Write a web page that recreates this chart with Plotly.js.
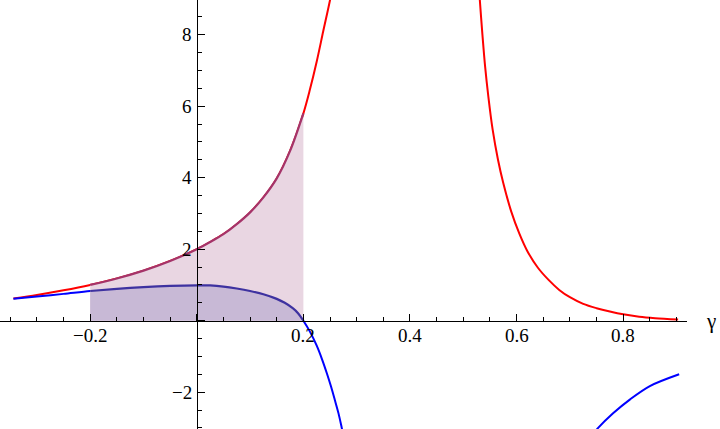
<!DOCTYPE html>
<html>
<head>
<meta charset="utf-8">
<script src="https://cdn.plot.ly/plotly-3.0.1.min.js"></script>
<style>html,body{margin:0;padding:0;background:#fff;}#chart{width:720px;height:429px;}</style>
</head>
<body>
<div id="chart"></div>
<script>
// Red curve (left branch, then right branch)
const redX1 = [-0.344,-0.30,-0.25,-0.20,-0.15,-0.10,-0.05,0.00,0.025,0.05,0.075,0.10,0.125,0.15,0.175,0.20,0.212,0.225,0.237,0.250,0.258];
const redY1 = [0.62,0.72,0.85,1.00,1.18,1.40,1.67,2.00,2.20,2.42,2.70,3.03,3.45,3.98,4.75,5.80,6.45,7.25,8.08,8.97,9.60];
const redX2 = [0.527,0.531,0.536,0.541,0.547,0.555,0.565,0.575,0.590,0.605,0.620,0.640,0.660,0.680,0.700,0.725,0.750,0.775,0.800,0.830,0.860,0.903];
const redY2 = [9.90,8.97,7.98,7.10,6.27,5.35,4.51,3.85,3.05,2.44,1.95,1.48,1.14,0.86,0.656,0.47,0.35,0.256,0.177,0.109,0.068,0.03];
// Blue curve (left branch, then right branch)
const blueX1 = [-0.344,-0.30,-0.25,-0.20,-0.15,-0.10,-0.05,0.00,0.025,0.05,0.075,0.10,0.125,0.15,0.165,0.18,0.19,0.20,0.212,0.225,0.235,0.244,0.252,0.259,0.266,0.272,0.278];
const blueY1 = [0.61,0.675,0.75,0.83,0.89,0.94,0.975,0.99,0.985,0.955,0.90,0.83,0.74,0.61,0.50,0.35,0.21,0.00,-0.30,-0.70,-1.08,-1.47,-1.85,-2.22,-2.60,-3.00,-3.42];
const blueX2 = [0.745,0.753,0.781,0.813,0.850,0.905];
const blueY2 = [-3.15,-3.00,-2.59,-2.20,-1.83,-1.50];
// Shaded interval
const shadeLo = -0.2, shadeHi = 0.2;
// Tick labels
const xTickVals = [-0.2,0.2,0.4,0.6,0.8];
const xTickText = ['\u22120.2','0.2','0.4','0.6','0.8'];
const yTickVals = [-2,2,4,6,8];
const yTickText = ['\u22122','2','4','6','8'];
const axisLabel = '\u03b3';

function sub(xs, ys){
  const ox=[], oy=[];
  xs.forEach((x,i)=>{ if (x>=shadeLo-1e-9 && x<=shadeHi+1e-9){ox.push(x);oy.push(ys[i]);} });
  return [ox,oy];
}
const [pinkX, pinkY] = sub(redX1, redY1);
const [lavX, lavY] = sub(blueX1, blueY1);

const sm = 0.9;
const traces = [
  {x: redX1.concat([null]).concat(redX2), y: redY1.concat([null]).concat(redY2), mode:'lines',
   line:{color:'#ff0000', width:2, shape:'spline', smoothing:sm}, connectgaps:false, hoverinfo:'skip'},
  {x: blueX1.concat([null]).concat(blueX2), y: blueY1.concat([null]).concat(blueY2), mode:'lines',
   line:{color:'#0000ff', width:2, shape:'spline', smoothing:sm}, connectgaps:false, hoverinfo:'skip'},
  {x: pinkX, y: pinkY, mode:'lines', fill:'tozeroy', fillcolor:'rgb(233,214,226)',
   line:{color:'rgb(165,52,105)', width:2.2, shape:'spline', smoothing:sm}, hoverinfo:'skip'},
  {x: lavX, y: lavY, mode:'lines', fill:'tozeroy', fillcolor:'rgb(200,185,214)',
   line:{color:'rgb(62,50,160)', width:2.2, shape:'spline', smoothing:sm}, hoverinfo:'skip'}
];

const yMin = -3.03, yMax = 8.97, xMin = -0.3692, xMax = 0.9197;
const xDomEnd = 687/720;
const xAxisPos = (0-yMin)/(yMax-yMin);
const yAxisPos = (0-xMin)/(xMax-xMin)*xDomEnd;
const labFont = {family:'Liberation Serif', size:19, color:'#000000'};

const annotations = [];
xTickVals.forEach((v,i)=>annotations.push({text:xTickText[i], xref:'x', x:v, yref:'paper', y:xAxisPos,
  xanchor:'center', yanchor:'top', yshift:-2, showarrow:false, font:labFont}));
yTickVals.forEach((v,i)=>annotations.push({text:yTickText[i], xref:'paper', x:yAxisPos, yref:'y', y:v,
  xanchor:'right', yanchor:'middle', xshift:-3, showarrow:false, font:labFont}));
annotations.push({text:axisLabel, xref:'paper', yref:'paper', x:711/720, y:xAxisPos, xanchor:'center', yanchor:'middle',
  showarrow:false, font:{family:'Liberation Serif', size:21, color:'#000000'}});

const layout = {
  width:720, height:429,
  margin:{l:0,r:0,t:0,b:0},
  font:{family:'Liberation Serif', size:19, color:'#000000'},
  paper_bgcolor:'#ffffff', plot_bgcolor:'rgba(0,0,0,0)',
  showlegend:false,
  xaxis:{domain:[0,xDomEnd], range:[xMin,xMax], anchor:'free', position:xAxisPos,
    showline:true, linecolor:'#000000', linewidth:1.2, showgrid:false, zeroline:false, showticklabels:false,
    tickmode:'linear', tick0:0, dtick:0.2, ticks:'inside', ticklen:7, tickwidth:1, tickcolor:'#000000',
    minor:{tickmode:'linear', tick0:0, dtick:0.05, ticks:'inside', ticklen:4, tickwidth:1, tickcolor:'#000000', showgrid:false},
    fixedrange:true},
  yaxis:{domain:[0,1], range:[yMin,yMax], anchor:'free', position:yAxisPos,
    showline:true, linecolor:'#000000', linewidth:1.2, showgrid:false, zeroline:false, showticklabels:false,
    tickmode:'linear', tick0:0, dtick:2, ticks:'inside', ticklen:7, tickwidth:1, tickcolor:'#000000',
    minor:{tickmode:'linear', tick0:0, dtick:0.5, ticks:'inside', ticklen:4, tickwidth:1, tickcolor:'#000000', showgrid:false},
    fixedrange:true},
  annotations: annotations
};
Plotly.newPlot('chart', traces, layout, {staticPlot:true, displayModeBar:false});
</script>
</body>
</html>
